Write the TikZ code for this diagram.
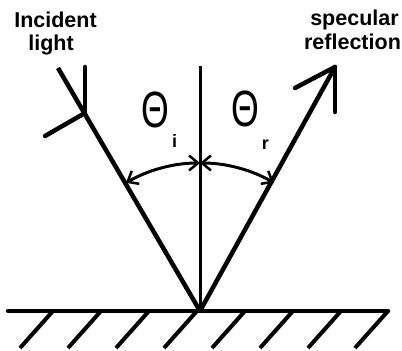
\documentclass[tikz,border=0pt]{standalone}
\usepackage{fontspec}
\setmainfont{Liberation Sans}
\usetikzlibrary{arrows.meta}
\begin{document}
\begin{tikzpicture}[x=1pt,y=1pt,
  ray/.style={line width=4.5pt},
  wing/.style={line width=4.5pt, line cap=round},
  normalline/.style={line width=3pt},
  surface/.style={line width=4.5pt, line cap=round},
  hatch/.style={line width=4pt},
  anglearc/.style={line width=3pt,
    {Straight Barb[length=9pt,width=15pt,line width=2.5pt]}-{Straight Barb[length=9pt,width=15pt,line width=2.5pt]}},
  label/.style={font=\fontsize{21.5}{21.5}\selectfont\bfseries, inner sep=0pt, anchor=base},
  theta/.style={font=\fontsize{51}{51}\selectfont, inner sep=0pt, xscale=0.7},
  subs/.style={font=\fontsize{18}{18}\selectfont\bfseries, inner sep=0pt, anchor=base}
]
\useasboundingbox (0,0) rectangle (402,351);
% key points
\coordinate (V) at (200,40);
\coordinate (SL) at (8,40);
\coordinate (SR) at (388,40);
\coordinate (N) at (200,285);
\coordinate (A) at (58,283);
\coordinate (P) at (85,238);
\coordinate (R) at (335,284);
% surface and hatching
\draw[surface] (SL) -- (SR);
\foreach \x in {53,101,149,197,245,293,341,388}
  \draw[hatch] (\x,40) -- ++(-33,-37);
% normal
\draw[normalline] (V) -- (N);
% incident ray with arrowhead in the middle
\draw[ray] (A) -- (V);
\draw[wing] (P) -- ++(0,46);
\draw[wing] (P) -- ++(-40,-23);
% reflected ray
\draw[ray] (V) -- (R);
\draw[wing] (R) -- ++(0,-45);
\draw[wing] (R) -- ++(-40,-21);
% angle arcs
\draw[anglearc] ([shift={(90:148)}]V) arc[start angle=90, end angle=120, radius=148];
\draw[anglearc] ([shift={(90:148)}]V) arc[start angle=90, end angle=60, radius=148];
% angle labels
\node[theta] (ti) at (155,241) {Θ};
\node[subs] (si) at (174.5,203) {i};
\node[theta] (tr) at (245,242) {Θ};
\node[subs] (sr) at (265.5,201) {r};
% text labels
\node[label] (inc1) at (55.5,323) {Incident};
\node[label] (inc2) at (51,300) {light};
\node[label] (spe1) at (354.5,325) {specular};
\node[label] (spe2) at (352.5,301) {reflection};
\end{tikzpicture}
\end{document}
